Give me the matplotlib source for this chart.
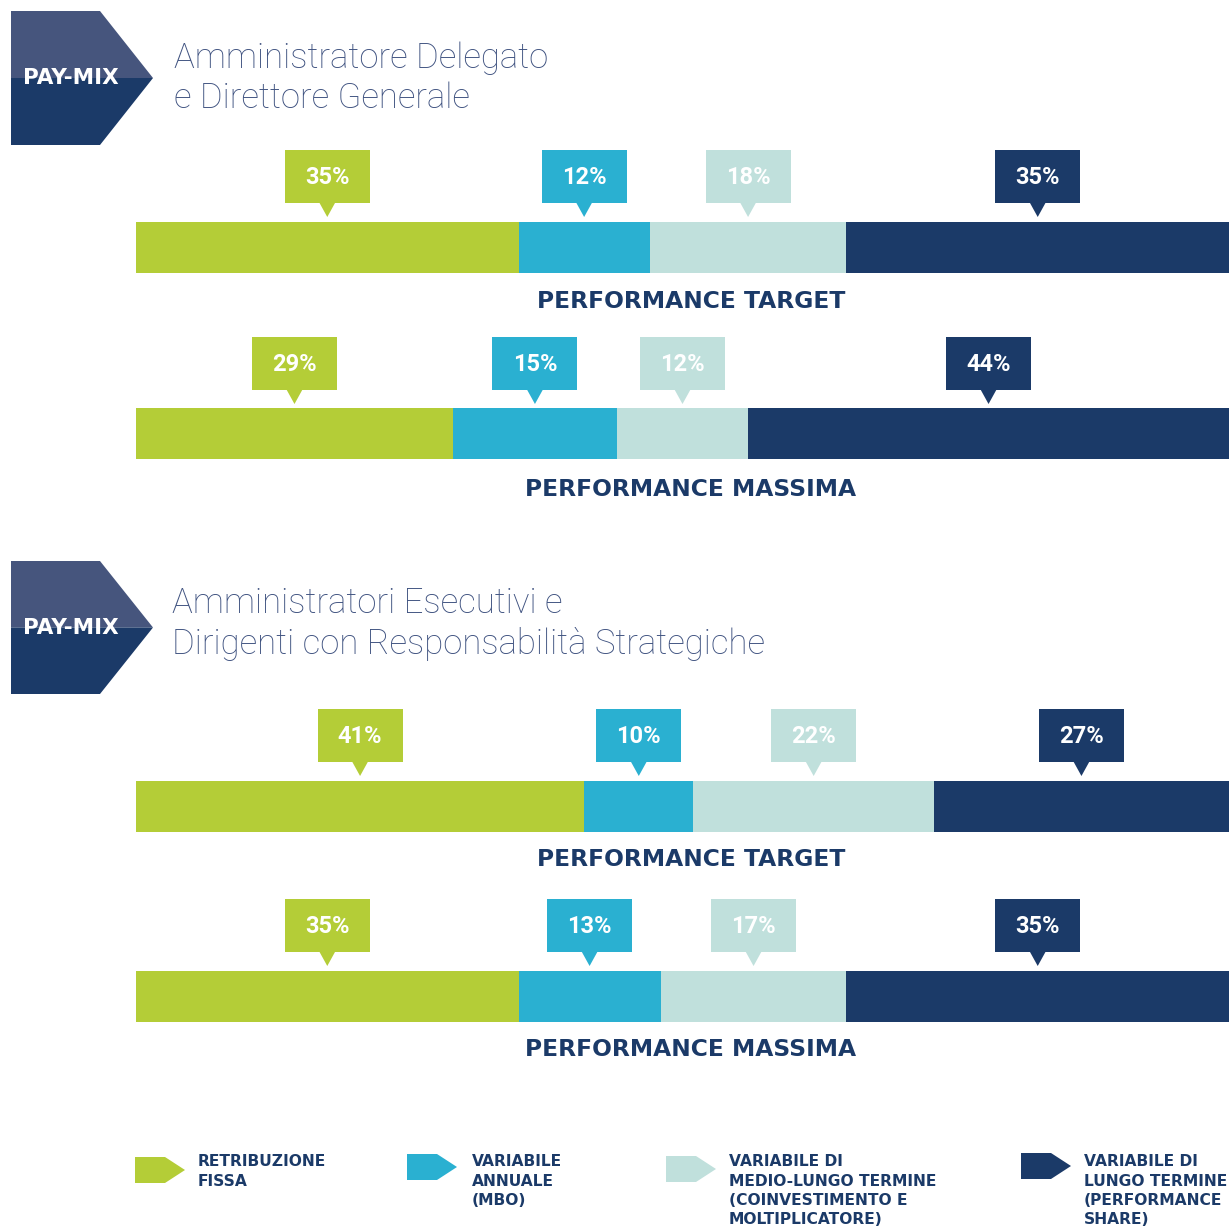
import matplotlib
matplotlib.use("Agg")
import matplotlib.pyplot as plt
from matplotlib.patches import Polygon, Rectangle
import numpy as np

# ---------------- data ----------------
components = ["RETRIBUZIONE\nFISSA",
              "VARIABILE\nANNUALE\n(MBO)",
              "VARIABILE DI\nMEDIO-LUNGO TERMINE\n(COINVESTIMENTO E\nMOLTIPLICATORE)",
              "VARIABILE DI\nLUNGO TERMINE\n(PERFORMANCE\nSHARE)"]
colors = ["#b4cd37", "#2ab0d1", "#c0e0dc", "#1b3a68"]
section_titles = ["Amministratore Delegato\ne Direttore Generale",
                  "Amministratori Esecutivi e\nDirigenti con Responsabilità Strategiche"]
row_labels = ["PERFORMANCE TARGET", "PERFORMANCE MASSIMA"]
ad_target = [35, 12, 18, 35]
ad_massima = [29, 15, 12, 44]
dirs_target = [41, 10, 22, 27]
dirs_massima = [35, 13, 17, 35]
badge_text = "PAY-MIX"

NAVY = "#1b3a68"
W, H = 1229, 1228
fig = plt.figure(figsize=(W / 100, H / 100), dpi=100)
fig.patch.set_facecolor("white")

bg = fig.add_axes([0, 0, 1, 1])
bg.set_xlim(0, W)
bg.set_ylim(H, 0)
bg.axis("off")

FONT = ["Roboto", "DejaVu Sans"]
WIDE = ["DejaVu Sans"]


def badge(top, bottom):
    mid = (top + bottom) / 2
    bg.add_patch(Polygon([(11, top), (100, top), (153, mid), (11, mid)],
                         closed=True, fc="#46557d", ec="none"))
    bg.add_patch(Polygon([(11, mid), (153, mid), (100, bottom), (11, bottom)],
                         closed=True, fc=NAVY, ec="none"))
    bg.text(71, mid, badge_text, color="white", fontsize=15.5, fontweight="bold",
            ha="center", va="center", family=WIDE)


def title(x, y, text):
    bg.text(x, y, text, color="#3f5280", fontsize=25, fontweight="light",
            ha="left", va="center", family=FONT, linespacing=1.25)


def bar_row(values, box_top, bar_top, bar_bottom, label_y, label):
    x0, x1 = 136, 1229
    ax = fig.add_axes([x0 / W, (H - bar_bottom) / H, (x1 - x0) / W,
                       (bar_bottom - box_top) / H])
    ax.set_xlim(0, 100)
    ax.set_ylim(bar_bottom, box_top)
    ax.axis("off")
    left = np.concatenate([[0], np.cumsum(values)[:-1]])
    ax.barh((bar_top + bar_bottom) / 2, values, left=left,
            height=bar_bottom - bar_top, color=colors, edgecolor="none")
    pxu = 100 / (x1 - x0)  # data units per pixel
    bw = 85 * pxu
    bh = 53
    tw = 8 * pxu
    for v, l, c in zip(values, left, colors):
        cx = l + v / 2
        ax.add_patch(Rectangle((cx - bw / 2, box_top), bw, bh, fc=c, ec="none",
                               clip_on=False))
        ax.add_patch(Polygon([(cx - tw, box_top + bh - 0.5), (cx + tw, box_top + bh - 0.5),
                              (cx, box_top + bh + 14)], closed=True, fc=c, ec="none",
                             clip_on=False))
        ax.text(cx, box_top + bh / 2 + 1, f"{v}%", color="white", fontsize=17,
                fontweight="bold", ha="center", va="center", family=FONT)
    bg.text(691, label_y, label, color=NAVY, fontsize=16.8, fontweight="bold",
            ha="center", va="center", family=WIDE)


# Section 1
badge(11, 145)
title(174, 78, section_titles[0])
bar_row(ad_target, 150, 222, 273, 302, row_labels[0])
bar_row(ad_massima, 337, 408, 459, 489, row_labels[1])

# Section 2
badge(561, 694)
title(172, 624, section_titles[1])
bar_row(dirs_target, 709, 781, 832, 860, row_labels[0])
bar_row(dirs_massima, 899, 971, 1022, 1050, row_labels[1])

# Legend
legend_pos = [(135, 1157, 198), (407, 1154, 472), (666, 1156, 729), (1021, 1153, 1084)]
for (lx, ly, tx), c, name in zip(legend_pos, colors, components):
    h = 26
    bg.add_patch(Polygon([(lx, ly), (lx + 30, ly), (lx + 50, ly + h / 2),
                          (lx + 30, ly + h), (lx, ly + h)], closed=True, fc=c, ec="none"))
    bg.text(tx, 1154.5, name, color=NAVY, fontsize=11.2, fontweight="bold",
            ha="left", va="top", family=WIDE, linespacing=1.34)

fig.savefig("out.png", dpi=100, facecolor="white")
